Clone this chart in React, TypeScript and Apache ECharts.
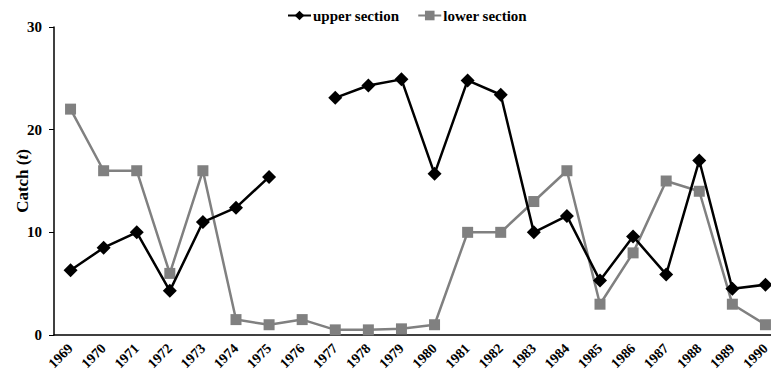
import React, { useEffect, useRef } from "react";
import * as echarts from "echarts";

const years = ["1969","1970","1971","1972","1973","1974","1975","1976","1977","1978","1979","1980","1981","1982","1983","1984","1985","1986","1987","1988","1989","1990"];
const upperSection = [6.3, 8.5, 10.0, 4.3, 11.0, 12.4, 15.4, null, 23.1, 24.3, 24.9, 15.7, 24.8, 23.4, 10.0, 11.6, 5.3, 9.6, 5.9, 17.0, 4.5, 4.9];
const lowerSection = [22, 16, 16, 6, 16, 1.5, 1.0, 1.5, 0.5, 0.5, 0.6, 1.0, 10, 10, 13, 16, 3, 8, 15, 14, 3, 1];

const FONT = "Liberation Serif";

export default function App() {
  const ref = useRef<HTMLDivElement>(null);
  useEffect(() => {
    if (!ref.current) return;
    const chart = echarts.init(ref.current, null, { renderer: "svg" });
    chart.setOption({
      animation: false,
      backgroundColor: "#ffffff",
      textStyle: { fontFamily: FONT, fontWeight: "bold" },
      legend: {
        top: 3,
        left: 282,
        itemWidth: 23,
        itemHeight: 12,
        itemGap: 18,
        textStyle: { fontFamily: FONT, fontWeight: "bold", fontSize: 15, color: "#000", padding: [0, 0, 0, -3] },
        data: ["upper section", "lower section"],
      },
      graphic: [
        {
          type: "text",
          x: 22,
          y: 181,
          rotation: Math.PI / 2,
          style: {
            text: "{b|Catch (}{i|t}{b|)}",
            align: "center",
            verticalAlign: "middle",
            rich: {
              b: { fontFamily: FONT, fontWeight: "bold", fontSize: 17, fill: "#000" },
              i: { fontFamily: FONT, fontWeight: "bold", fontStyle: "italic", fontSize: 17, fill: "#000" },
            },
          },
        },
      ],
      grid: { left: 54, top: 27, width: 728, bottom: 43, containLabel: false, outerBoundsMode: "none" },
      xAxis: {
        type: "category",
        data: years,
        boundaryGap: true,
        axisLine: { lineStyle: { color: "#000", width: 1.5 } },
        axisTick: { alignWithLabel: true, length: 4, lineStyle: { color: "#000" } },
        axisLabel: {
          rotate: 45,
          interval: 0,
          margin: 11,
          fontFamily: FONT,
          fontWeight: "bold",
          fontSize: 14,
          color: "#000",
        },
      },
      yAxis: {
        type: "value",
        min: 0,
        max: 30,
        interval: 10,
        splitLine: { show: false },
        axisLine: { show: true, lineStyle: { color: "#000", width: 1.5 } },
        axisTick: { show: true, length: 5, lineStyle: { color: "#000" } },
        axisLabel: { fontFamily: FONT, fontWeight: "bold", fontSize: 15, color: "#000", margin: 12 },
      },
      series: [
        {
          name: "upper section",
          type: "line",
          data: upperSection,
          connectNulls: false,
          symbol: "diamond",
          symbolSize: 14,
          z: 3,
          lineStyle: { color: "#000", width: 2.5 },
          itemStyle: { color: "#000" },
        },
        {
          name: "lower section",
          type: "line",
          data: lowerSection,
          symbol: "rect",
          symbolSize: 11,
          z: 2,
          lineStyle: { color: "#808080", width: 2.5 },
          itemStyle: { color: "#808080" },
        },
      ],
    });
    return () => chart.dispose();
  }, []);
  return <div ref={ref} style={{ position: "fixed", left: 0, top: 0, width: 771, height: 378 }} />;
}
